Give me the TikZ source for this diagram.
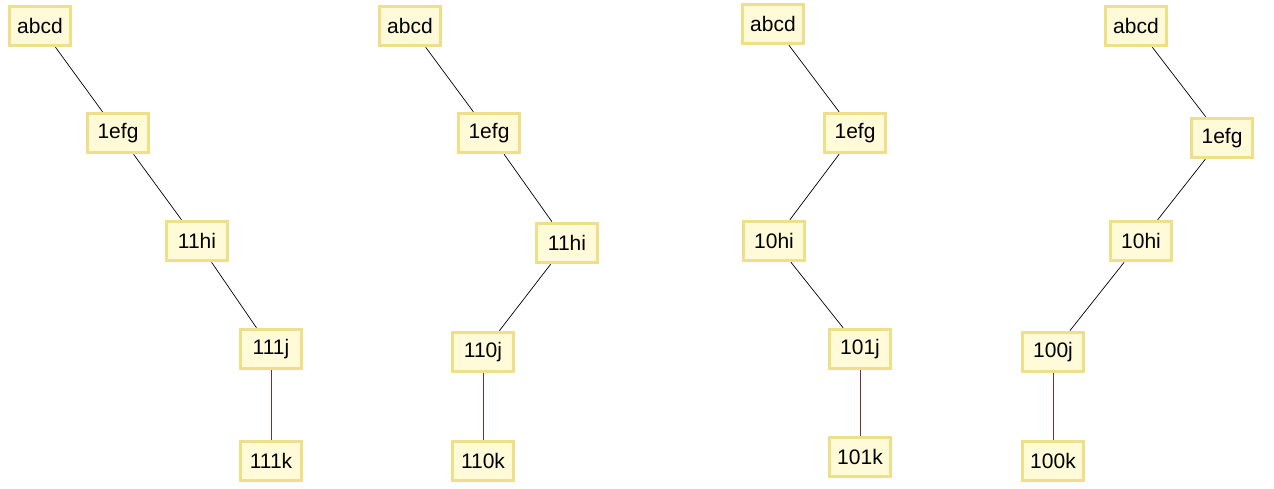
\documentclass[tikz,border=0pt]{standalone}
\usepackage{fontspec}
\setmainfont{Liberation Sans}
\definecolor{boxfill}{HTML}{FFFBD8}
\definecolor{boxline}{HTML}{EEDF88}
\definecolor{vline}{HTML}{6A3535}
\begin{document}
\begin{tikzpicture}[x=1pt,y=-1pt,
  tn/.style={draw=boxline,fill=boxfill,line width=3.5pt,minimum width=61pt,minimum height=39pt,inner sep=2pt,font=\fontsize{21}{24}\selectfont},
  dl/.style={draw=black,line width=0.7pt},
  vl/.style={draw=vline,line width=0.9pt}]
\useasboundingbox (0,0) rectangle (1274,489);
% tree 1
\node[tn] (a1) at (40,26) {abcd};
\node[tn] (b1) at (118,133) {1efg};
\node[tn] (c1) at (197,241) {11hi};
\node[tn] (d1) at (271,349) {111j};
\node[tn] (e1) at (271,461) {111k};
% tree 2
\node[tn] (a2) at (410,26) {abcd};
\node[tn] (b2) at (489,133) {1efg};
\node[tn] (c2) at (567,243) {11hi};
\node[tn] (d2) at (483,352) {110j};
\node[tn] (e2) at (483,461) {110k};
% tree 3
\node[tn] (a3) at (773,24) {abcd};
\node[tn] (b3) at (855,133) {1efg};
\node[tn] (c3) at (774,241) {10hi};
\node[tn] (d3) at (860,349) {101j};
\node[tn] (e3) at (860,457) {101k};
% tree 4
\node[tn] (a4) at (1136,26) {abcd};
\node[tn] (b4) at (1222,138) {1efg};
\node[tn] (c4) at (1141,241) {10hi};
\node[tn] (d4) at (1053,352) {100j};
\node[tn] (e4) at (1053,461) {100k};
\foreach \t in {1,2,3,4}{
  \draw[dl] (a\t) -- (b\t);
  \draw[dl] (b\t) -- (c\t);
  \draw[dl] (c\t) -- (d\t);
  \draw[vl] (d\t) -- (e\t);
}
\end{tikzpicture}
\end{document}
